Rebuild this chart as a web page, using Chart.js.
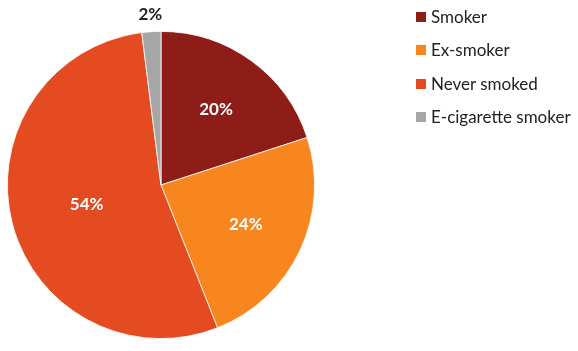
<!DOCTYPE html>
<html>
<head>
<meta charset="utf-8">
<script src="https://cdn.jsdelivr.net/npm/chart.js@4"></script>
<style>
  html, body { margin: 0; padding: 0; background: #fff; }
  #wrap { position: relative; width: 578px; height: 351px; }
  #legend { position: absolute; left: 416px; top: 6px; font-family: Lato, 'Open Sans', sans-serif; font-size: 17px; color: #222; }
  .item { height: 33.3px; display: flex; align-items: flex-start; }
  .sw { width: 10px; height: 10px; margin: 6px 5px 0 0; }
</style>
</head>
<body>
<div id="wrap">
  <canvas id="pie" width="578" height="351"></canvas>
  <div id="legend"></div>
</div>
<script>
// ── Data ──────────────────────────────────────
const categories = ['Smoker', 'Ex-smoker', 'Never smoked', 'E-cigarette smoker'];
const shares = [20, 24, 54, 2];
const colours = ['#8E1C17', '#F7861F', '#E54B20', '#A6A6A6'];

// ── Legend (html) ─────────────────────────────
const legendEl = document.getElementById('legend');
categories.forEach((name, i) => {
  const row = document.createElement('div');
  row.className = 'item';
  row.innerHTML = '<span class="sw" style="background:' + colours[i] + '"></span>' + name;
  legendEl.appendChild(row);
});

// ── Percent labels on slices ──────────────────
const sliceLabels = {
  id: 'sliceLabels',
  afterDatasetsDraw(chart) {
    const ctx = chart.ctx;
    const meta = chart.getDatasetMeta(0);
    ctx.save();
    ctx.font = 'bold 17px Lato, sans-serif';
    ctx.textAlign = 'center';
    ctx.textBaseline = 'middle';
    meta.data.forEach((arc, i) => {
      const mid = (arc.startAngle + arc.endAngle) / 2;
      const small = shares[i] < 5;
      const r = small ? arc.outerRadius + 17 : arc.outerRadius * (shares[i] > 50 ? 0.5 : 0.61);
      const x = arc.x + Math.cos(mid) * r;
      const y = arc.y + Math.sin(mid) * r;
      ctx.fillStyle = small ? '#222' : '#fff';
      ctx.fillText(shares[i] + '%', x, y);
    });
    ctx.restore();
  }
};

new Chart(document.getElementById('pie'), {
  type: 'pie',
  data: {
    labels: categories,
    datasets: [{
      data: shares,
      backgroundColor: colours,
      borderColor: '#fff',
      borderWidth: 0.8
    }]
  },
  options: {
    responsive: false,
    animation: false,
    layout: { padding: { top: 31, bottom: 12, left: 7, right: 263 } },
    plugins: {
      legend: { display: false },
      tooltip: { enabled: false }
    }
  },
  plugins: [sliceLabels]
});
</script>
</body>
</html>
